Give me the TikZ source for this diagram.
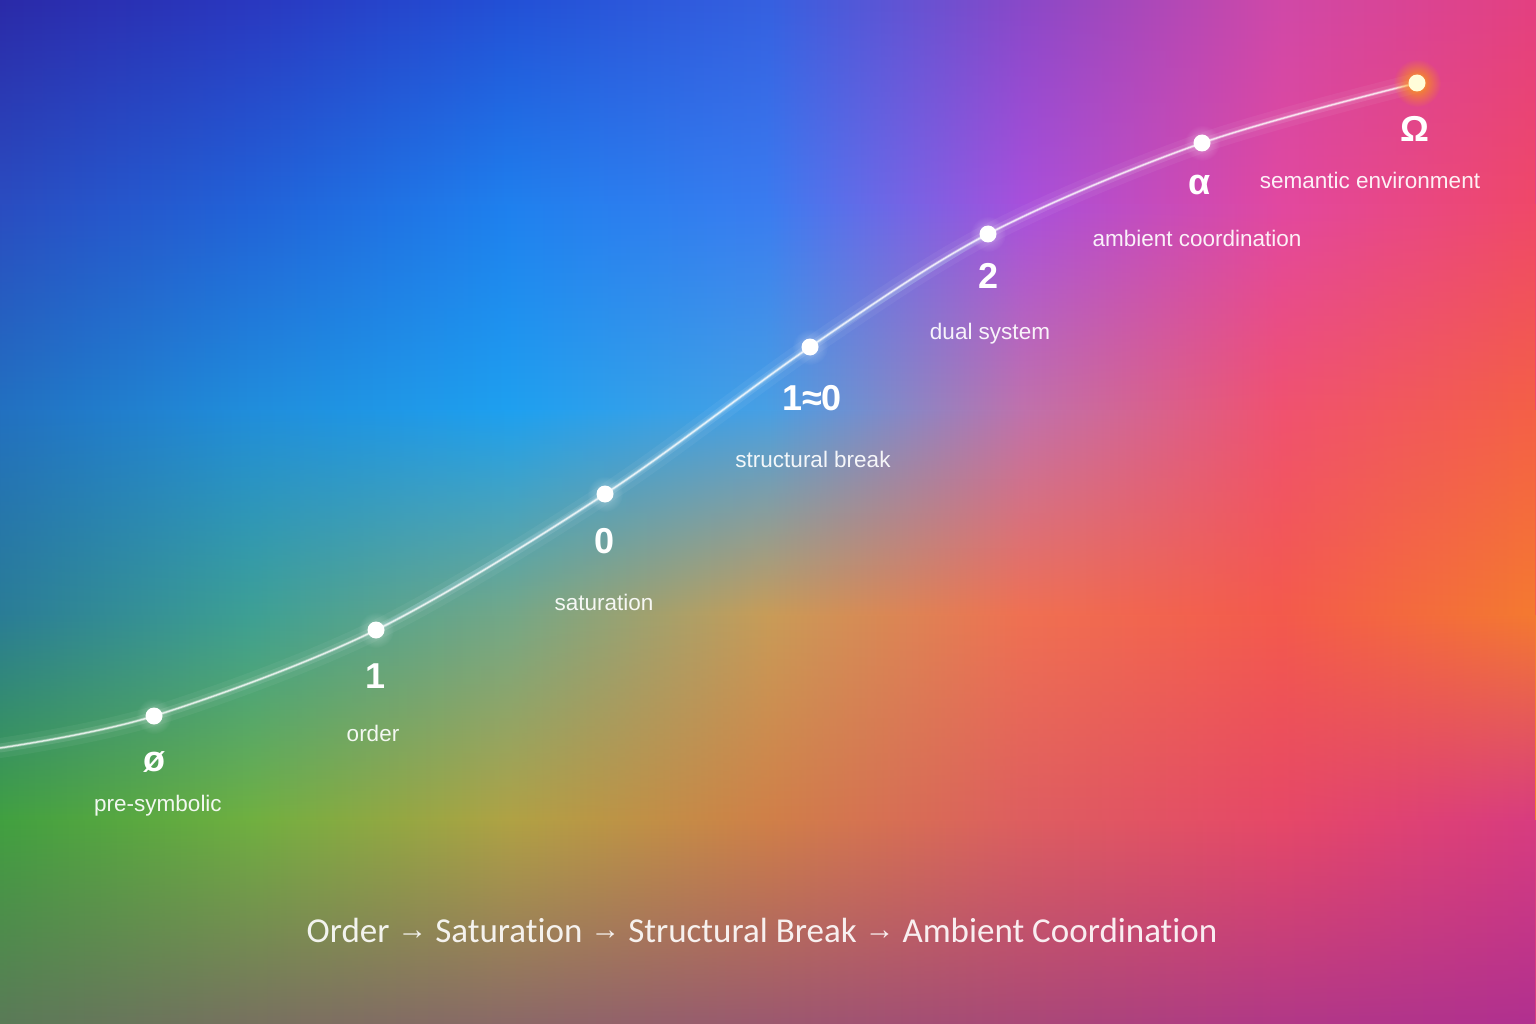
\documentclass[tikz,border=0pt]{standalone}
\usepackage{fontspec}
\setmainfont{Liberation Sans}
\newfontfamily\titlefont[Ligatures=NoCommon]{Carlito}
\usetikzlibrary{fadings, positioning}

% background colour grid, one row every 205px, seven stops per row
\definecolor{a0}{HTML}{2B2AA8}\definecolor{a1}{HTML}{2A38C0}\definecolor{a2}{HTML}{2350D6}
\definecolor{a3}{HTML}{3560E0}\definecolor{a4}{HTML}{8A48C8}\definecolor{a5}{HTML}{D048A8}
\definecolor{a6}{HTML}{E44080}
\definecolor{b0}{HTML}{2A4CC0}\definecolor{b1}{HTML}{2262D8}\definecolor{b2}{HTML}{1F80EE}
\definecolor{b3}{HTML}{3A7CF0}\definecolor{b4}{HTML}{A850DC}\definecolor{b5}{HTML}{E248A0}
\definecolor{b6}{HTML}{F04868}
\definecolor{c0}{HTML}{2270C0}\definecolor{c1}{HTML}{208EDC}\definecolor{c2}{HTML}{1EA0F0}
\definecolor{c3}{HTML}{48A0E4}\definecolor{c4}{HTML}{C072AC}\definecolor{c5}{HTML}{F05270}
\definecolor{c6}{HTML}{F46046}
\definecolor{d0}{HTML}{2A7C96}\definecolor{d1}{HTML}{3EA094}\definecolor{d2}{HTML}{74A888}
\definecolor{d3}{HTML}{C89C58}\definecolor{d4}{HTML}{F07052}\definecolor{d5}{HTML}{F45A4C}
\definecolor{d6}{HTML}{F47A30}
\definecolor{e0}{HTML}{40A040}\definecolor{e1}{HTML}{70B040}\definecolor{e2}{HTML}{B0A244}
\definecolor{e3}{HTML}{D08048}\definecolor{e4}{HTML}{DE5E60}\definecolor{e5}{HTML}{E64868}
\definecolor{e6}{HTML}{D83C80}
\definecolor{f0}{HTML}{5A7A58}\definecolor{f1}{HTML}{787060}\definecolor{f2}{HTML}{8A6868}
\definecolor{f3}{HTML}{9A5870}\definecolor{f4}{HTML}{A84878}\definecolor{f5}{HTML}{B03888}
\definecolor{f6}{HTML}{B03090}

\newcommand{\bgrow}[1]{%
  \pgfdeclarehorizontalshading{row#1}{100bp}{color(0bp)=(#10); color(25bp)=(#10);
    color(33.333bp)=(#11); color(41.667bp)=(#12); color(50bp)=(#13);
    color(58.333bp)=(#14); color(66.667bp)=(#15); color(75bp)=(#16); color(100bp)=(#16)}}
\bgrow{a}\bgrow{b}\bgrow{c}\bgrow{d}\bgrow{e}\bgrow{f}

\tikzfading[name=rampin, top color=transparent!100, bottom color=transparent!0]
\tikzfading[name=softblob, inner color=transparent!0, outer color=transparent!100]

\newcommand{\stagearrow}{\raisebox{3pt}{\fontspec{Liberation Sans}\fontsize{30}{34}\selectfont →}}

\begin{document}
\begin{tikzpicture}[
    x=1pt, y=-1pt,
    dot/.style={circle, fill=white, inner sep=0pt, minimum size=17pt},
    halo/.style={white, opacity=0.35, path fading=softblob},
    stage/.style={text=white, inner sep=0pt, font=\bfseries\fontsize{36}{40}\selectfont},
    tag/.style={text=white, text opacity=0.92, inner sep=0pt, font=\fontsize{22.5}{26}\selectfont},
    glow/.style={white, line cap=round, line join=round}
]
\useasboundingbox (0,0) rectangle (1536,1024);
\clip (0,0) rectangle (1536,1024);

% === BACKGROUND ===
\shade[shading=rowa] (-4,-4) rectangle (1540,205);
\shade[shading=rowb, path fading=rampin] (-4,0) rectangle (1540,205);
\shade[shading=rowb] (-4,205) rectangle (1540,410);
\shade[shading=rowc, path fading=rampin] (-4,205) rectangle (1540,410);
\shade[shading=rowc] (-4,410) rectangle (1540,615);
\shade[shading=rowd, path fading=rampin] (-4,410) rectangle (1540,615);
\shade[shading=rowd] (-4,615) rectangle (1540,820);
\shade[shading=rowe, path fading=rampin] (-4,615) rectangle (1540,820);
\shade[shading=rowe] (-4,820) rectangle (1540,1028);
\shade[shading=rowf, path fading=rampin] (-4,820) rectangle (1540,1028);

% === CURVE POINTS ===
\coordinate (start) at (0,748);
\coordinate (pEmpty) at (154,716);
\coordinate (pOne) at (376,630);
\coordinate (pZero) at (605,494);
\coordinate (pBreak) at (810,347);
\coordinate (pTwo) at (988,234);
\coordinate (pAlpha) at (1202,143);
\coordinate (pOmega) at (1417,83);

% glowing path
\draw[glow, line width=20pt, opacity=0.05] plot[smooth, tension=0.55] coordinates
    {(start) (pEmpty) (pOne) (pZero) (pBreak) (pTwo) (pAlpha) (pOmega)};
\draw[glow, line width=9pt, opacity=0.10] plot[smooth, tension=0.55] coordinates
    {(start) (pEmpty) (pOne) (pZero) (pBreak) (pTwo) (pAlpha) (pOmega)};
\draw[cyan!30!white, line width=5pt, opacity=0.18, line cap=round] plot[smooth, tension=0.55] coordinates
    {(pOne) (pZero) (pBreak) (pTwo)};
\draw[glow, line width=3pt, opacity=0.30] plot[smooth, tension=0.55] coordinates
    {(start) (pEmpty) (pOne) (pZero) (pBreak) (pTwo) (pAlpha) (pOmega)};
\draw[glow, line width=1.4pt, opacity=0.75] plot[smooth, tension=0.55] coordinates
    {(start) (pEmpty) (pOne) (pZero) (pBreak) (pTwo) (pAlpha) (pOmega)};

% === DOTS ===
\fill[halo] (pEmpty) circle (18pt);
\fill[halo] (pOne) circle (18pt);
\fill[halo] (pZero) circle (18pt);
\fill[halo] (pBreak) circle (18pt);
\fill[halo] (pTwo) circle (18pt);
\fill[halo] (pAlpha) circle (18pt);
\fill[orange!70!yellow, opacity=0.9, path fading=softblob] (pOmega) circle (24pt);

\node[dot] (dEmpty) at (pEmpty) {};
\node[dot] (dOne) at (pOne) {};
\node[dot] (dZero) at (pZero) {};
\node[dot] (dBreak) at (pBreak) {};
\node[dot] (dTwo) at (pTwo) {};
\node[dot] (dAlpha) at (pAlpha) {};
\node[dot, fill=white!85!yellow] (dOmega) at (pOmega) {};

% === STAGE SYMBOLS ===
\node[stage] (sEmpty) at (154,762) {ø};
\node[stage] (sOne) at (376,676) {1};
\node[stage] (sZero) at (605,541) {0};
\node[stage] (sBreak) at (812,398) {1≈0};
\node[stage] (sTwo) at (988,276) {2};
\node[stage] (sAlpha) at (1200,185) {α};
\node[stage] (sOmega) at (1415,129) {Ω};

% === STAGE NAMES ===
\node[tag] (tEmpty) at (158,806) {pre-symbolic};
\node[tag] (tOne) at (373,733) {order};
\node[tag] (tZero) at (604,602) {saturation};
\node[tag] (tBreak) at (813,459) {structural break};
\node[tag] (tTwo) at (990,334) {dual system};
\node[tag] (tAlpha) at (1197,238) {ambient coordination};
\node[tag] (tOmega) at (1370,180) {semantic environment};

% === TITLE ===
\node[text=white, text opacity=0.9, font=\titlefont\fontsize{35}{40}\selectfont] (title) at (762,930)
    {Order \stagearrow{} Saturation \stagearrow{} Structural Break \stagearrow{} Ambient Coordination};

\end{tikzpicture}
\end{document}
